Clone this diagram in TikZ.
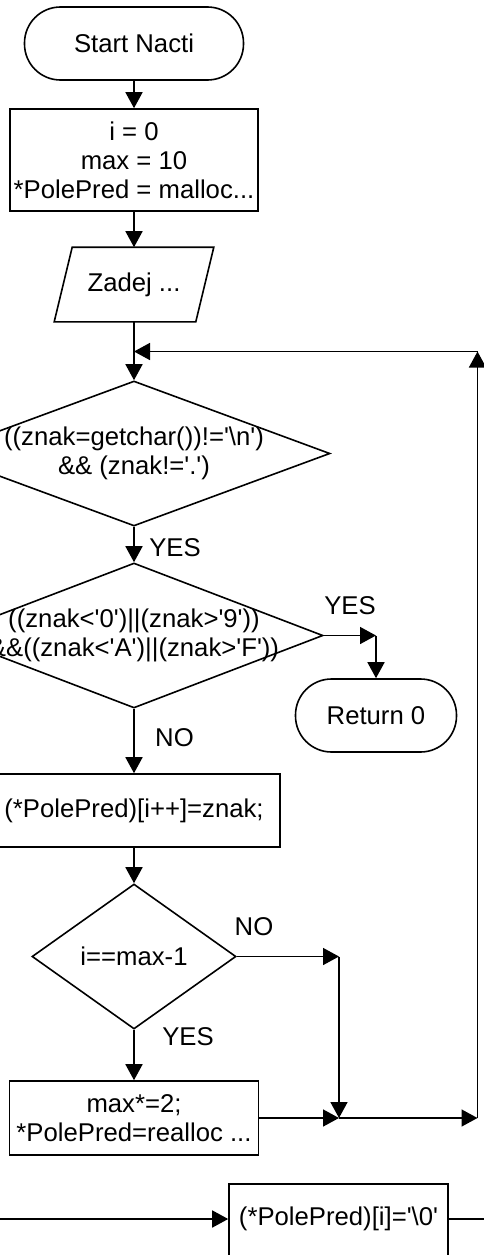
\documentclass[tikz,border=0pt]{standalone}
\usepackage{fontspec}
\setmainfont{Liberation Sans}[Ligatures=TeXOff]
\usetikzlibrary{arrows.meta,shapes.geometric}
\begin{document}
\begin{tikzpicture}[x=1pt,y=-1pt, line width=1.6pt,
  font=\fontsize{25.7}{29}\selectfont,
  arr/.style={-{Triangle[length=16pt,width=17pt]}},
  term/.style={draw, rectangle, rounded corners=36pt, minimum height=73pt, inner sep=0pt},
  proc/.style={draw, rectangle, inner sep=0pt, align=center},
  dec/.style={draw, diamond, inner sep=0pt},
  txt/.style={align=center, inner sep=0pt},
  lbl/.style={inner sep=0pt}]
\useasboundingbox (0,0) rectangle (484,1255);
\clip (0,0) rectangle (484,1255);
\fill[white] (0,0) rectangle (484,1255);

% nodes
\node[term, minimum width=219pt] (start) at (134,43.5) {Start Nacti};
\node[proc, minimum width=248.5pt, minimum height=102pt] (init) at (134,160)
  {i = 0\\max = 10\\{*}PolePred = malloc...};
\node[minimum width=140pt, minimum height=73pt, inner sep=0pt] (in) at (134,284.5) {Zadej ...};
\draw ([xshift=9pt]in.north west) -- ([xshift=9pt]in.north east)
  -- ([xshift=-9pt]in.south east) -- ([xshift=-9pt]in.south west) -- cycle;

\node[dec, minimum width=392pt, minimum height=145pt] (c1) at (134,453.5) {};
\node[txt] (c1t) at (c1.center) {((znak=getchar())!='\textbackslash n')\\\&\& (znak!='.')};

\node[dec, minimum width=378pt, minimum height=145pt] (c2) at (134,635.5) {};
\node[txt] (c2t) at (c2.center) {((znak<'0')||(znak>'9'))\\\&\&((znak<'A')||(znak>'F'))};

\node[term, minimum width=161pt] (ret) at (376,715.5) {Return 0};

\node[proc, minimum width=292pt, minimum height=73pt] (p1) at (134,810.5) {(*PolePred)[i++]=znak;};

\node[dec, minimum width=204pt, minimum height=145pt] (c3) at (134,956.5) {};
\node[txt] (c3t) at (c3.center) {i==max-1};

\node[proc, minimum width=249pt, minimum height=74pt] (p2) at (134,1118)
  {max*=2;\\{*}PolePred=realloc ...};

\node[draw, minimum width=219pt, minimum height=100pt, inner sep=0pt] (p3) at (338.5,1234) {};
\node[txt] (p3t) at (338.5,1219) {(*PolePred)[i]='\textbackslash 0'};

% junctions
\coordinate (jl) at (134,351.5);
\coordinate (jr) at (477.5,351.5);
\coordinate (jb) at (477.5,1118);
\coordinate (jm) at (339,1118);
\coordinate (jn) at (339,956.5);
\coordinate (jy) at (376,635.5);
\coordinate (bl) at (0,1219);
\coordinate (br) at (484,1219);

% connectors
\draw[arr] (start) -- (init);
\draw[arr] (init) -- (in);
\draw[arr] (in) -- (c1);
\draw[arr] (c1) -- (c2);
\draw[arr] (c2.east) -- (jy);
\draw[arr] (jy) -- (ret.north);
\draw[arr] (c2) -- (p1);
\draw[arr] (p1) -- (c3);
\draw[arr] (c3.east) -- (jn);
\draw[arr] (jn) -- (jm);
\draw[arr] (c3) -- (p2);
\draw[arr] (p2.east) -- (jm);
\draw[arr] (jm) -- (jb);
\draw[arr] (jb) -- (jr);
\draw[arr] (jr) -- (jl);
\draw[arr] (bl) -- (bl -| p3.west);
\draw (p3.east |- br) -- (br);

% labels
\node[lbl] (y1) at (175,548) {YES};
\node[lbl] (y2) at (350,606) {YES};
\node[lbl] (n1) at (174.5,738) {NO};
\node[lbl] (n2) at (254,927) {NO};
\node[lbl] (y3) at (188,1037) {YES};
\end{tikzpicture}
\end{document}
